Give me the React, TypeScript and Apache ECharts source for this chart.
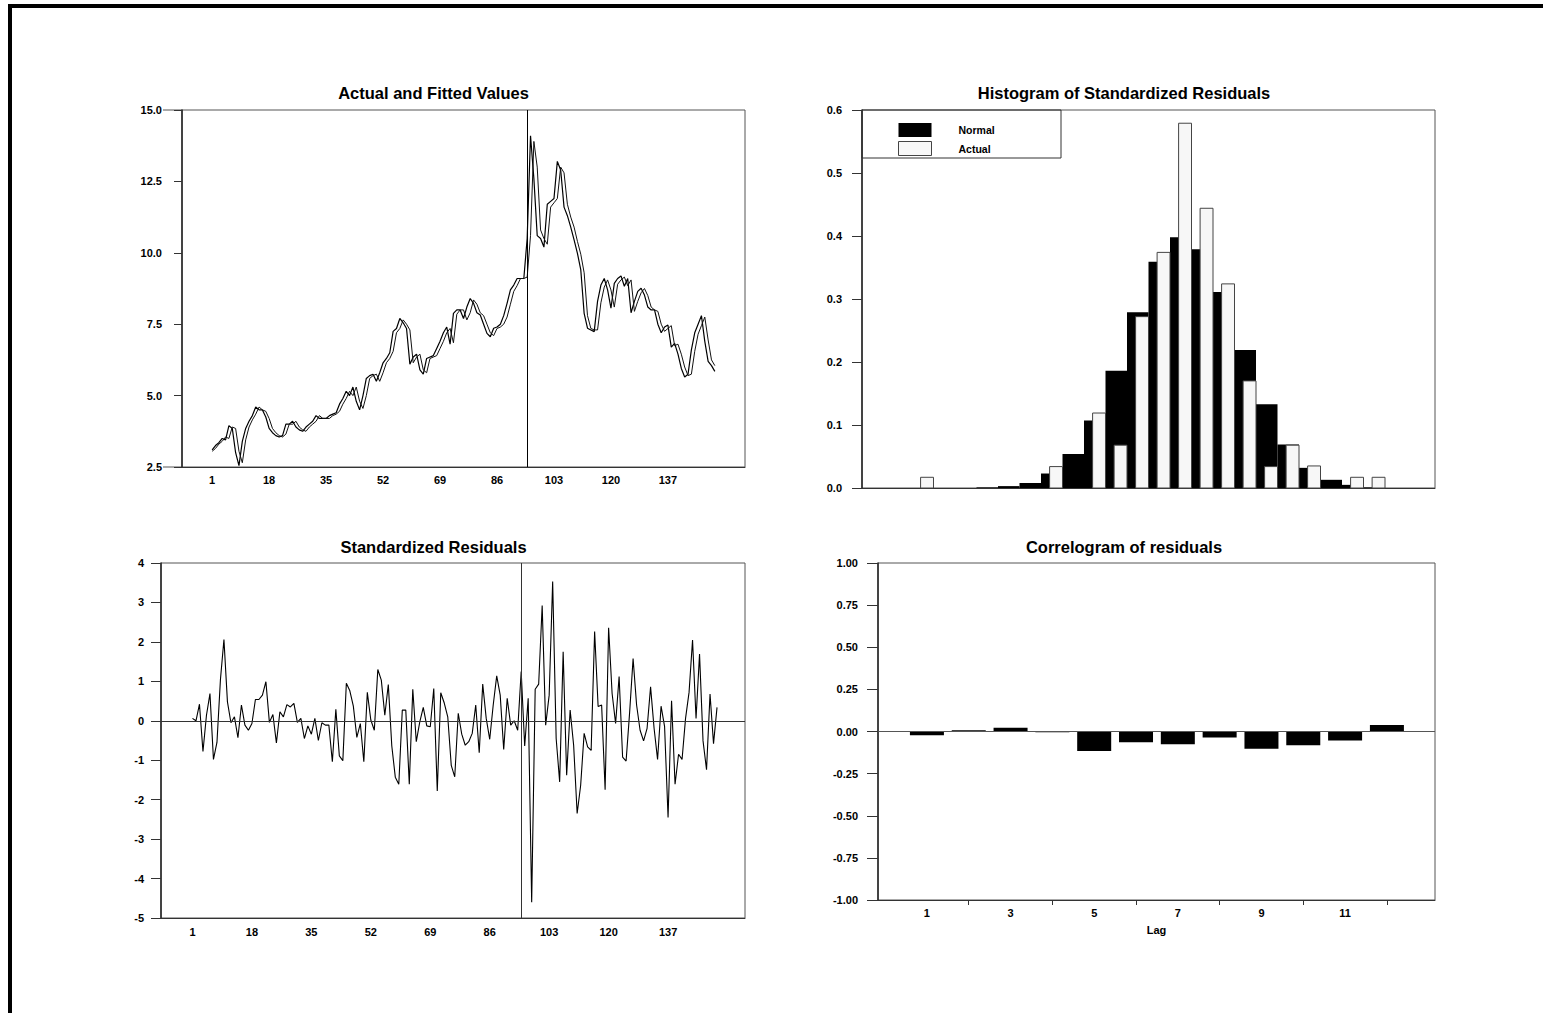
import React, { useEffect, useRef } from "react";
import * as echarts from "echarts";

// ---------- DATA ----------
const actualValues = [
  3.1, 3.25, 3.35, 3.5, 3.45, 3.95, 3.85, 3.0, 2.55, 3.4,
  3.85, 4.1, 4.3, 4.6, 4.5, 4.5, 4.25, 3.85, 3.7, 3.6,
  3.55, 3.6, 4.0, 4.0, 4.1, 3.9, 3.8, 3.75, 3.9, 4.0,
  4.1, 4.3, 4.2, 4.2, 4.2, 4.3, 4.35, 4.4, 4.7, 4.9,
  5.15, 5.0, 5.3, 4.8, 4.5, 5.0, 5.6, 5.7, 5.75, 5.5,
  5.8, 6.15, 6.3, 6.5, 7.25, 7.35, 7.7, 7.55, 7.35, 6.1,
  6.35, 6.45, 5.9, 5.75, 6.3, 6.35, 6.4, 6.65, 6.9, 7.2,
  7.4, 6.8, 7.88, 8.0, 8.0, 7.7, 8.1, 8.4, 8.23, 7.9,
  7.82, 7.5, 7.18, 7.06, 7.36, 7.4, 7.5, 7.8, 8.23, 8.7,
  8.87, 9.1, 9.1, 9.1, 10.5, 14.1, 12.6, 10.6, 10.5, 10.2,
  11.7, 11.8, 11.9, 13.2, 12.9, 11.6, 11.3, 10.9, 10.45, 9.98,
  9.4, 7.88, 7.36, 7.3, 7.24, 8.3, 8.87, 9.1, 8.7, 8.06,
  8.93, 9.1, 9.19, 8.83, 9.1, 7.9, 8.3, 8.65, 8.76, 8.52,
  8.1, 8.0, 8.0, 7.5, 7.2, 7.4, 7.47, 6.7, 6.83, 6.45,
  5.95, 5.65, 5.75, 6.6, 7.2, 7.5, 7.8, 6.9, 6.2, 6.05,
  5.85,
];

const fittedValues = [
  3.05, 3.15, 3.3, 3.4, 3.55, 3.5, 3.9, 3.85, 3.05, 2.65,
  3.45, 3.9, 4.15, 4.35, 4.6, 4.5, 4.45, 4.2, 3.85, 3.7,
  3.6, 3.55, 3.65, 4.0, 4.0, 4.1, 3.9, 3.8, 3.75, 3.9,
  4.0, 4.1, 4.3, 4.2, 4.2, 4.2, 4.3, 4.35, 4.45, 4.7,
  4.9, 5.15, 5.0, 5.3, 4.8, 4.55, 5.0, 5.6, 5.7, 5.75,
  5.5, 5.8, 6.15, 6.3, 6.55, 7.2, 7.35, 7.65, 7.5, 7.3,
  6.15, 6.35, 6.45, 5.9, 5.8, 6.3, 6.35, 6.4, 6.65, 6.9,
  7.2, 7.35, 6.85, 7.85, 8.0, 8.0, 7.65, 7.9, 8.35, 8.2,
  7.9, 7.8, 7.5, 7.2, 7.1, 7.35, 7.4, 7.5, 7.75, 8.2,
  8.65, 8.85, 9.1, 9.1, 9.15, 10.6, 13.9, 13.0, 10.8, 10.5,
  10.3, 11.6, 11.75, 11.9, 13.0, 12.8, 11.7, 11.25, 10.9, 10.4,
  9.95, 9.3, 7.8, 7.35, 7.3, 7.3, 8.25, 8.8, 9.05, 8.7,
  8.1, 8.9, 9.05, 9.15, 8.85, 9.05, 7.95, 8.3, 8.6, 8.75,
  8.5, 8.1, 8.0, 7.95, 7.5, 7.25, 7.35, 7.45, 6.75, 6.8,
  6.45, 6.0, 5.7, 5.75, 6.55, 7.15, 7.45, 7.75, 6.95, 6.25,
  6.05,
];

const residualValues = [
  0.06, 0.0, 0.42, -0.78, 0.14, 0.69, -0.98, -0.55, 1.05, 2.06,
  0.48, -0.05, 0.1, -0.43, 0.4, -0.11, -0.24, -0.07, 0.54, 0.54,
  0.65, 0.99, -0.04, 0.16, -0.56, 0.23, 0.1, 0.41, 0.35, 0.44,
  -0.04, 0.06, -0.45, -0.13, -0.34, 0.06, -0.5, -0.05, -0.11, -0.11,
  -1.04, 0.29, -0.89, -1.01, 0.95, 0.76, 0.37, -0.42, -0.07, -1.04,
  0.72, 0.02, -0.24, 1.3, 1.03, 0.14, 0.92, -0.64, -1.43, -1.61,
  0.27, 0.27, -1.61, 0.8, -0.53, -0.03, 0.34, -0.13, -0.15, 0.82,
  -1.78, 0.71, 0.45, 0.1, -1.13, -1.42, 0.19, -0.34, -0.62, -0.53,
  -0.32, 0.4, -0.81, 0.93, 0.06, -0.47, 0.4, 1.14, 0.65, -0.73,
  0.57, -0.11, 0.0, -0.24, 1.25, -0.64, 0.57, -4.6, 0.8, 0.93,
  2.92, -0.11, 0.65, 3.53, -0.45, -1.55, 1.75, -1.38, 0.27, -0.62,
  -2.35, -1.64, -0.32, -0.66, -0.75, 2.26, 0.36, 0.4, -1.75, 2.36,
  0.69, -0.07, 1.12, -0.92, -1.02, 0.2, 1.58, 0.4, -0.24, -0.51,
  -0.19, 0.86, -0.19, -0.98, 0.37, -0.14, -2.45, 0.51, -1.61, -0.85,
  -0.98, 0.06, 0.72, 2.05, 0.06, 1.69, -0.51, -1.24, 0.68, -0.58,
  0.34,
];

const obsTickLabels = [1, 18, 35, 52, 69, 86, 103, 120, 137];
const breakObs = 95;

const histBinWidth = 0.4;
const histBinCenters = [
  -4.8, -4.4, -4.0, -3.6, -3.2, -2.8, -2.4, -2.0, -1.6, -1.2, -0.8,
  -0.4, 0.0, 0.4, 0.8, 1.2, 1.6, 2.0, 2.4, 2.8, 3.2, 3.6,
];
const normalDensity = [
  0.0, 0.0, 0.0, 0.001, 0.003, 0.008, 0.023, 0.054, 0.107, 0.186, 0.279,
  0.359, 0.398, 0.379, 0.311, 0.219, 0.133, 0.069, 0.032, 0.013, 0.005, 0.001,
];
const actualDensity = [
  0.017, 0.0, 0.0, 0.0, 0.0, 0.0, 0.034, 0.0, 0.119, 0.068, 0.272,
  0.374, 0.579, 0.444, 0.324, 0.17, 0.034, 0.068, 0.035, 0.0, 0.017, 0.017,
];

const corrLags = [1, 2, 3, 4, 5, 6, 7, 8, 9, 10, 11, 12];
const corrValues = [
  -0.022, 0.008, 0.022, -0.004, -0.115, -0.064, -0.075, -0.036, -0.103, -0.081, -0.054, 0.038,
];
const corrLabelLags = [1, 3, 5, 7, 9, 11];
const corrTickLags = [2, 4, 6, 8, 10, 12];

// ---------- STYLE ----------
const FONT = "'Liberation Sans', Arial, Helvetica, sans-serif";
const lbl = { fontFamily: FONT, fontSize: 11, fontWeight: "bold" as const, color: "#000" };
const gridBorder = { show: true, borderColor: "#555", borderWidth: 1, backgroundColor: "transparent" };

function titleText(text: string, x: number, y: number) {
  return {
    type: "text",
    x,
    y,
    silent: true,
    style: {
      text,
      fill: "#000",
      font: `bold 16.5px ${FONT}`,
      textAlign: "center",
      textVerticalAlign: "middle",
    },
  };
}

function histRenderer(startFrac: number, fill: string, stroke: string | null) {
  return (params: any, api: any) => {
    const c = api.value(0);
    const v = api.value(1);
    if (!(v > 0)) return { type: "group", children: [] };
    const lo = c - histBinWidth / 2 + histBinWidth * startFrac;
    const hi = c + histBinWidth / 2;
    const p0 = api.coord([lo, v]);
    const p1 = api.coord([hi, 0]);
    return {
      type: "rect",
      shape: { x: p0[0], y: p0[1], width: p1[0] - p0[0], height: p1[1] - p0[1] },
      style: stroke ? { fill, stroke, lineWidth: 1 } : { fill },
    };
  };
}

const yLine = { show: true, onZero: false, lineStyle: { color: "#222", width: 1.5 } };
const xLine = { show: true, onZero: false, lineStyle: { color: "#333", width: 1 } };

export default function App() {
  const ref = useRef<HTMLDivElement>(null);

  useEffect(() => {
    if (!ref.current) return;
    const chart = echarts.init(ref.current, undefined, { renderer: "svg" });

    const option: any = {
      animation: false,
      backgroundColor: "#fff",
      grid: [
        { left: 182, top: 110, width: 563, height: 357, ...gridBorder },
        { left: 161, top: 563, width: 584, height: 355, ...gridBorder },
        { left: 862, top: 110, width: 573, height: 378, ...gridBorder },
        { left: 878, top: 563, width: 557, height: 337, ...gridBorder },
      ],
      xAxis: [
        {
          gridIndex: 0, type: "value", min: -8, max: 160,
          axisLine: xLine,
          axisTick: { show: false },
          splitLine: { show: false },
          axisLabel: { ...lbl, margin: 7, customValues: obsTickLabels },
        },
        {
          gridIndex: 1, type: "value", min: -8, max: 159,
          axisLine: xLine,
          axisTick: { show: false },
          splitLine: { show: false },
          axisLabel: { ...lbl, margin: 8, customValues: obsTickLabels },
        },
        {
          gridIndex: 2, type: "value", min: -5.93, max: 4.73,
          axisLine: xLine,
          axisTick: { show: false },
          axisLabel: { show: false },
          splitLine: { show: false },
        },
        {
          gridIndex: 3, type: "value", min: -0.17, max: 13.15,
          axisLine: xLine,
          axisTick: { show: true, length: 5, inside: false, customValues: corrTickLags, lineStyle: { color: "#333" } },
          axisLabel: { ...lbl, margin: 7, customValues: corrLabelLags },
          splitLine: { show: false },
          name: "Lag",
          nameLocation: "middle",
          nameGap: 24,
          nameTextStyle: { ...lbl },
        },
      ],
      yAxis: [
        {
          gridIndex: 0, type: "value", min: 2.5, max: 15, interval: 2.5,
          axisLine: yLine,
          axisTick: { show: true, length: 8, lineStyle: { color: "#333" } },
          axisLabel: { ...lbl, margin: 20, formatter: (v: number) => v.toFixed(1) },
          splitLine: { show: false },
        },
        {
          gridIndex: 1, type: "value", min: -5, max: 4, interval: 1,
          axisLine: yLine,
          axisTick: { show: true, length: 10, lineStyle: { color: "#333" } },
          axisLabel: { ...lbl, margin: 17, formatter: (v: number) => String(v) },
          splitLine: { show: false },
        },
        {
          gridIndex: 2, type: "value", min: 0, max: 0.6, interval: 0.1,
          axisLine: yLine,
          axisTick: { show: true, length: 10, lineStyle: { color: "#333" } },
          axisLabel: { ...lbl, margin: 20, formatter: (v: number) => v.toFixed(1) },
          splitLine: { show: false },
        },
        {
          gridIndex: 3, type: "value", min: -1, max: 1, interval: 0.25,
          axisLine: yLine,
          axisTick: { show: true, length: 11, lineStyle: { color: "#333" } },
          axisLabel: { ...lbl, margin: 20, formatter: (v: number) => v.toFixed(2) },
          splitLine: { show: false },
        },
      ],
      legend: {
        show: true,
        selectedMode: false,
        orient: "vertical",
        left: 893,
        top: 118,
        itemWidth: 33,
        itemHeight: 14,
        itemGap: 4,
        textStyle: { fontFamily: FONT, fontSize: 10.5, fontWeight: "bold", color: "#000", padding: [0, 0, 0, 22] },
        data: [
          { name: "Normal", icon: "rect", itemStyle: { color: "#000" } },
          { name: "Actual", icon: "rect", itemStyle: { color: "#f7f7f7", borderColor: "#444", borderWidth: 1 } },
        ],
      },
      series: [
        {
          name: "Actual values",
          type: "line",
          xAxisIndex: 0,
          yAxisIndex: 0,
          data: actualValues.map((v, i) => [i + 1, v]),
          showSymbol: false,
          lineStyle: { color: "#000", width: 1.2 },
          markLine: {
            silent: true,
            symbol: "none",
            label: { show: false },
            lineStyle: { color: "#000", width: 1, type: "solid" },
            data: [{ xAxis: breakObs }],
          },
        },
        {
          name: "Fitted values",
          type: "line",
          xAxisIndex: 0,
          yAxisIndex: 0,
          data: fittedValues.map((v, i) => [i + 1, v]),
          showSymbol: false,
          lineStyle: { color: "#111", width: 1 },
        },
        {
          name: "Standardized residuals",
          type: "line",
          xAxisIndex: 1,
          yAxisIndex: 1,
          data: residualValues.map((v, i) => [i + 1, v]),
          showSymbol: false,
          lineStyle: { color: "#000", width: 1.1 },
          markLine: {
            silent: true,
            symbol: "none",
            label: { show: false },
            lineStyle: { color: "#333", width: 1, type: "solid" },
            data: [{ xAxis: breakObs }, { yAxis: 0 }],
          },
        },
        {
          name: "Normal",
          type: "custom",
          xAxisIndex: 2,
          yAxisIndex: 2,
          itemStyle: { color: "#000" },
          data: histBinCenters.map((c, i) => [c, normalDensity[i]]),
          renderItem: histRenderer(0, "#000", null),
          z: 2,
        },
        {
          name: "Actual",
          type: "custom",
          xAxisIndex: 2,
          yAxisIndex: 2,
          itemStyle: { color: "#f7f7f7" },
          data: histBinCenters.map((c, i) => [c, actualDensity[i]]),
          renderItem: histRenderer(0.4, "#f7f7f7", "#444"),
          z: 3,
        },
        {
          name: "Autocorrelation",
          type: "bar",
          xAxisIndex: 3,
          yAxisIndex: 3,
          data: corrLags.map((l, i) => [l, corrValues[i]]),
          barWidth: 34,
          itemStyle: { color: "#000" },
          markLine: {
            silent: true,
            symbol: "none",
            label: { show: false },
            lineStyle: { color: "#555", width: 1, type: "solid" },
            data: [{ yAxis: 0 }],
          },
        },
      ],
      graphic: [
        {
          type: "rect",
          silent: true,
          shape: { x: 10, y: 6, width: 1700, height: 1200 },
          style: { fill: "none", stroke: "#000", lineWidth: 4 },
        },
        titleText("Actual and Fitted Values", 433.5, 93),
        titleText("Standardized Residuals", 433.5, 547),
        titleText("Histogram of Standardized Residuals", 1124, 93),
        titleText("Correlogram of residuals", 1124, 547),
        {
          type: "line",
          silent: true,
          shape: { x1: 163, y1: 110, x2: 182, y2: 110 },
          style: { stroke: "#555", lineWidth: 1 },
        },
        {
          type: "line",
          silent: true,
          shape: { x1: 163, y1: 467, x2: 182, y2: 467 },
          style: { stroke: "#555", lineWidth: 1 },
        },
        {
          type: "rect",
          silent: true,
          z: 1,
          shape: { x: 862, y: 110, width: 199, height: 48 },
          style: { fill: "none", stroke: "#333", lineWidth: 1 },
        },
      ],
    };

    chart.setOption(option);
    return () => {
      chart.dispose();
    };
  }, []);

  return (
    <div style={{ position: "absolute", left: 0, top: 0, width: 1543, height: 1013, overflow: "hidden", background: "#fff" }}>
      <div ref={ref} style={{ width: 1543, height: 1013 }} />
    </div>
  );
}
